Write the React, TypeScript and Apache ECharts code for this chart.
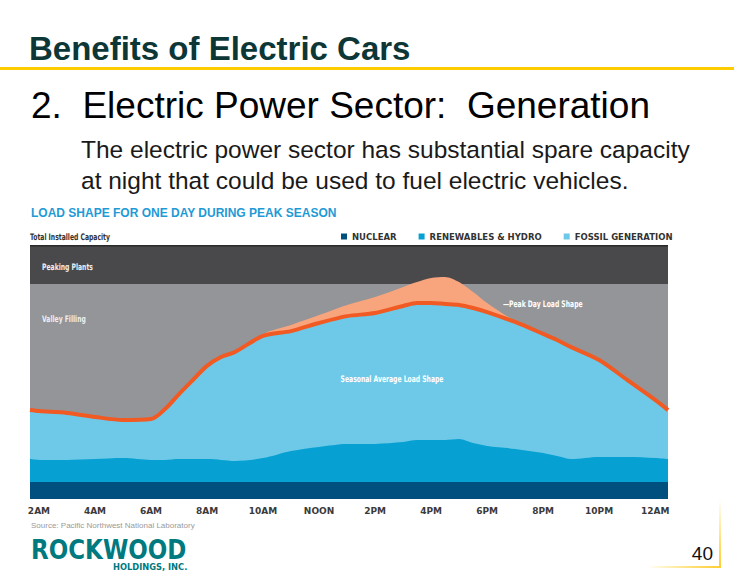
import React, { useEffect, useRef } from "react";
import * as echarts from "echarts";

// Hours of the day (x), 24 = midnight
const hours = [1.68, 2, 3, 4, 5, 6, 6.5, 7, 7.5, 8, 8.5, 9, 10, 11, 12, 13, 14, 15, 15.5, 16, 16.5, 17, 17.5, 18, 19, 20, 20.5, 21, 22, 23, 24, 24.46];
// Levels as % of total installed capacity
const nuclear = [6.7, 6.7, 6.7, 6.7, 6.7, 6.7, 6.7, 6.7, 6.7, 6.7, 6.7, 6.7, 6.7, 6.7, 6.7, 6.7, 6.7, 6.7, 6.7, 6.7, 6.7, 6.7, 6.7, 6.7, 6.7, 6.7, 6.7, 6.7, 6.7, 6.7, 6.7, 6.7];
const renewables = [15.7, 15.4, 15.4, 15.7, 16.1, 15.4, 15.4, 15.7, 15.7, 15.7, 15.4, 15.0, 16.1, 18.9, 20.5, 21.7, 21.7, 22.4, 23.2, 23.2, 23.2, 23.6, 22.0, 20.9, 19.7, 18.1, 16.9, 15.7, 16.5, 16.5, 16.1, 15.7];
const averageLoad = [35.0, 34.6, 33.9, 32.3, 31.1, 31.5, 35.4, 41.3, 46.9, 52.4, 55.9, 57.9, 64.2, 66.1, 69.3, 72.0, 73.2, 76.0, 77.2, 77.2, 76.8, 76.4, 75.2, 73.6, 69.7, 65.0, 62.6, 59.8, 54.7, 46.9, 39.0, 35.0];
const peakDayLoad = [35.0, 34.6, 33.9, 32.3, 31.1, 31.5, 35.4, 41.3, 46.9, 52.4, 55.9, 57.9, 65.0, 68.5, 72.4, 76.4, 79.5, 83.5, 85.4, 87.0, 87.4, 85.4, 81.5, 77.2, 70.1, 65.4, 62.6, 59.8, 54.7, 46.9, 39.0, 35.0];
const peakingPlantsBand = [84.6, 100];
const valleyFillingBand = [0, 84.6];

const xTickHours = [2, 4, 6, 8, 10, 12, 14, 16, 18, 20, 22, 24];
const xTickLabels = ["2AM", "4AM", "6AM", "8AM", "10AM", "NOON", "2PM", "4PM", "6PM", "8PM", "10PM", "12AM"];
const seriesNames = ["NUCLEAR", "RENEWABLES & HYDRO", "FOSSIL GENERATION"];

const C_NUC = "#00507F";
const C_REN = "#06A0D2";
const C_FOS = "#6DC9E7";
const C_LINE = "#F15A22";
const C_PEAK = "#F8A47D";
const NARROW = '"Liberation Sans Narrow", "DejaVu Sans Condensed", sans-serif';

const pairs = (vals: number[]) => hours.map((h, i) => [h, vals[i]]);

export default function App() {
  const ref = useRef<HTMLDivElement>(null);
  useEffect(() => {
    if (!ref.current) return;
    const chart = echarts.init(ref.current, undefined, { renderer: "svg" });
    const text = (t: string, x: number, y: number, style: any, extra: any = {}) => ({
      type: "text",
      x,
      y,
      silent: true,
      ...extra,
      style: { text: t, verticalAlign: "middle", ...style },
    });
    const narrowLabel = (t: string, x: number, y: number, fill: string, align = "left") =>
      text(t, x, y, { fill, fontFamily: NARROW, fontWeight: "bold", fontSize: 9, align }, { z: 10, scaleX: 0.75 });
    chart.setOption({
      animation: false,
      backgroundColor: "#ffffff",
      grid: { left: 30, right: 66, top: 245, bottom: 88, outerBoundsMode: "none" },
      xAxis: {
        type: "value",
        min: hours[0],
        max: hours[hours.length - 1],
        axisLine: { show: false },
        axisTick: { show: false },
        splitLine: { show: false },
        axisLabel: {
          customValues: xTickHours,
          formatter: (v: number) => xTickLabels[xTickHours.indexOf(Math.round(v))] ?? "",
          fontFamily: "DejaVu Sans",
          fontWeight: "bold",
          fontSize: 9,
          color: "#3a3a3a",
          margin: 7,
        },
      },
      yAxis: { type: "value", min: 0, max: 100, show: false },
      legend: {
        left: 341,
        top: 232,
        padding: 0,
        itemWidth: 6,
        itemHeight: 6,
        itemGap: 22,
        icon: "rect",
        selectedMode: false,
        textStyle: { fontFamily: "DejaVu Sans", fontWeight: "bold", fontSize: 8.5, color: "#333" },
        data: [
          { name: seriesNames[0], itemStyle: { color: C_NUC } },
          { name: seriesNames[1], itemStyle: { color: C_REN } },
          { name: seriesNames[2], itemStyle: { color: C_FOS } },
        ],
      },
      series: [
        {
          name: "Peak Day Load Shape",
          type: "line",
          z: 2,
          data: pairs(peakDayLoad),
          smooth: 0.3,
          symbol: "none",
          lineStyle: { width: 0 },
          areaStyle: { color: C_PEAK, opacity: 1 },
          markArea: {
            silent: true,
            data: [
              [{ yAxis: peakingPlantsBand[0], itemStyle: { color: "#49494B" } }, { yAxis: peakingPlantsBand[1] }],
              [{ yAxis: valleyFillingBand[0], itemStyle: { color: "#939598" } }, { yAxis: valleyFillingBand[1] }],
            ],
          },
        },
        {
          name: seriesNames[2],
          type: "line",
          z: 3,
          data: pairs(averageLoad),
          smooth: 0.3,
          symbol: "none",
          itemStyle: { color: C_FOS },
          lineStyle: { width: 4, color: C_LINE },
          areaStyle: { color: C_FOS, opacity: 1 },
        },
        {
          name: seriesNames[1],
          type: "line",
          z: 4,
          data: pairs(renewables),
          smooth: 0.3,
          symbol: "none",
          itemStyle: { color: C_REN },
          lineStyle: { width: 0 },
          areaStyle: { color: C_REN, opacity: 1 },
        },
        {
          name: seriesNames[0],
          type: "line",
          z: 5,
          data: pairs(nuclear),
          symbol: "none",
          itemStyle: { color: C_NUC },
          lineStyle: { width: 0 },
          areaStyle: { color: C_NUC, opacity: 1 },
        },
      ],
      graphic: [
        text("Benefits of Electric Cars", 29, 48.5, { fill: "#0D3737", fontFamily: "Liberation Sans, Arial, sans-serif", fontWeight: "bold", fontSize: 33 }),
        { type: "rect", silent: true, shape: { x: 0, y: 67, width: 734, height: 3 }, style: { fill: "#FFCC00" } },
        text("2.  Electric Power Sector:  Generation", 31, 105, { fill: "#000", fontFamily: "Liberation Sans, Arial, sans-serif", fontSize: 37 }),
        text("The electric power sector has substantial spare capacity", 81, 149, { fill: "#1a1a1a", fontFamily: "Liberation Sans, Arial, sans-serif", fontSize: 24.5 }),
        text("at night that could be used to fuel electric vehicles.", 81, 180, { fill: "#1a1a1a", fontFamily: "Liberation Sans, Arial, sans-serif", fontSize: 24.5 }),
        text("LOAD SHAPE FOR ONE DAY DURING PEAK SEASON", 31, 213, { fill: "#1E9AD6", fontFamily: "Liberation Sans, Arial, sans-serif", fontWeight: "bold", fontSize: 12 }),
        narrowLabel("Total Installed Capacity", 30, 237, "#333"),
        { type: "rect", silent: true, z: 10, shape: { x: 30, y: 245, width: 638, height: 1.5 }, style: { fill: "#2a2a2a" } },
        narrowLabel("Peaking Plants", 42, 267, "#eeeeee"),
        narrowLabel("Valley Filling", 42, 319, "#eeeeee"),
        narrowLabel("Seasonal Average Load Shape", 392, 379, "#ffffff", "center"),
        narrowLabel("\u2014Peak Day Load Shape", 503, 304, "#ffffff"),
        text("Source: Pacific Northwest National Laboratory", 31, 525, { fill: "#9a9a9a", fontFamily: "Liberation Sans, Arial, sans-serif", fontSize: 8 }),
        text("ROCKWOOD", 31, 550, { fill: "#00797F", fontFamily: "DejaVu Sans", fontWeight: "bold", fontSize: 23 }, { scaleY: 1.15 }),
        text("HOLDINGS, INC.", 113, 567, { fill: "#00797F", fontFamily: "DejaVu Sans", fontWeight: "bold", fontSize: 8.3 }),
        text("40", 713, 553, { fill: "#111", fontFamily: "Liberation Sans, Arial, sans-serif", fontSize: 19, align: "right" }),
        {
          type: "rect",
          silent: true,
          shape: { x: 719, y: 500, width: 2, height: 68 },
          style: { fill: new echarts.graphic.LinearGradient(0, 0, 0, 1, [{ offset: 0, color: "rgba(255,204,0,0)" }, { offset: 1, color: "#FFCC33" }]) },
        },
        {
          type: "rect",
          silent: true,
          shape: { x: 647, y: 566, width: 74, height: 2 },
          style: { fill: new echarts.graphic.LinearGradient(0, 0, 1, 0, [{ offset: 0, color: "rgba(255,204,0,0)" }, { offset: 1, color: "#FFCC33" }]) },
        },
      ],
    });
    return () => chart.dispose();
  }, []);
  return <div ref={ref} style={{ position: "fixed", left: 0, top: 0, width: 734, height: 587, background: "#fff" }} />;
}
